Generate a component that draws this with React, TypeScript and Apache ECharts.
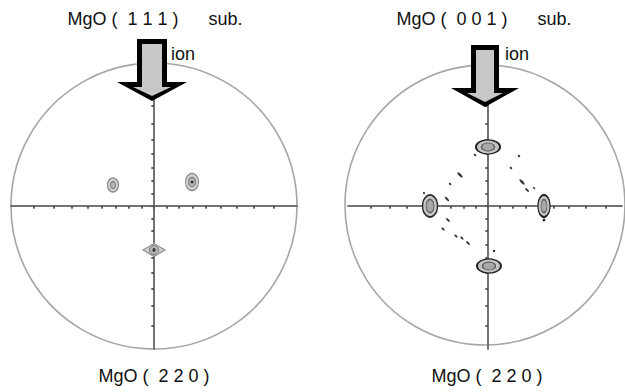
import React, { useEffect, useRef } from "react";
import * as echarts from "echarts";

// ---- data ----
const NB = "\u00A0";
const titles = [
  `MgO${NB}(${NB}${NB}1${NB}1${NB}1${NB})${NB.repeat(6)}sub.`,
  `MgO${NB}(${NB}${NB}0${NB}0${NB}1${NB})${NB.repeat(6)}sub.`,
];
const bottomLabels = [
  `MgO${NB}(${NB}${NB}2${NB}2${NB}0${NB})`,
  `MgO${NB}(${NB}${NB}2${NB}2${NB}0${NB})`,
];
const ionLabel = "ion";
// stereographic tick angles (deg, tilt psi)
const tickAngles = [10, 20, 30, 40, 50, 60, 70, 80];

// left pole figure spots (normalized stereographic coords)
const leftSpotX = [-0.287, 0.266, 0.0];
const leftSpotY = [0.147, 0.168, -0.308];
// right pole figure main spots
const rightSpotX = [0.0, -0.414, 0.4, 0.007];
const rightSpotY = [0.413, 0.0, 0.0, -0.42];
// right pole figure weak streaks
const streakX = [-0.093, -0.2, -0.271, -0.457, -0.293, 0.221, 0.164, 0.243, 0.279, 0.329, -0.286, -0.321, -0.229, -0.186, -0.143, 0.4, 0.043];
const streakY = [0.357, 0.217, 0.154, 0.091, 0.049, 0.35, 0.266, 0.168, 0.112, 0.126, -0.098, -0.161, -0.21, -0.224, -0.259, -0.098, -0.315];

// ---- styling (pixel sizes) ----
const leftOuter = [[11, 14], [13, 17], [22, 13]];
const leftOuterSym = ["circle", "circle", "diamond"];
const leftInner = [[5, 7], [7, 9], [9, 9]];
const leftCore = [[0, 0], [3, 3], [3, 4]];
const rightOuter = [[24, 14], [15, 22], [12, 22], [24, 14]];
const rightInner = [[13, 8], [8, 13], [6, 13], [13, 8]];
const streakSize = [[3, 2], [7, 2.5], [3, 2], [2, 2], [6, 2], [3, 2], [3, 2], [7, 2.5], [5, 2], [3, 1.5], [5, 2], [4, 2], [4, 2], [4, 2], [5, 2], [3, 3], [2, 3]];

const FONT = "'Liberation Sans', Arial, sans-serif";

export default function App() {
  const ref = useRef<HTMLDivElement>(null);
  useEffect(() => {
    if (!ref.current) return;
    const chart = echarts.init(ref.current, null, { renderer: "svg" });
    const tv: number[] = [0];
    tickAngles.forEach((a) => {
      const t = Math.tan((a * Math.PI) / 360);
      tv.push(t, -t);
    });
    const axisLineStyle = { color: "#6a6a6a", width: 1.5 };
    const mkX = (grid: number, min: number, max: number, inside: boolean, pos: string) => ({
      type: "value", gridIndex: grid, min, max, position: pos,
      axisLine: { show: true, onZero: true, lineStyle: axisLineStyle },
      axisTick: { show: true, inside, length: 2.5, customValues: tv, lineStyle: { color: "#555", width: 1.5 } },
      axisLabel: { show: false }, splitLine: { show: false },
    });
    const mkY = (grid: number, inside: boolean, pos: string) => ({
      type: "value", gridIndex: grid, min: -1, max: 1, position: pos,
      axisLine: { show: true, onZero: true, lineStyle: axisLineStyle },
      axisTick: { show: true, inside, length: 2.5, customValues: tv, lineStyle: { color: "#555", width: 1.5 } },
      axisLabel: { show: false }, splitLine: { show: false },
    });
    const scat = (xi: number, xs: number[], ys: number[], sizes: number[][], color: string, border: string, bw: number, z: number, syms?: string[], rot?: number) => ({
      type: "scatter", xAxisIndex: xi, yAxisIndex: xi, z, silent: true,
      data: xs.map((x, i) => ({
        value: [x, ys[i]],
        symbol: syms ? syms[i] : "circle",
        symbolSize: sizes[i],
        symbolRotate: rot || 0,
      })).filter((d) => d.symbolSize[0] > 0),
      itemStyle: { color, borderColor: border, borderWidth: bw, opacity: 1 },
    });
    const ringAxis = (pi: number) => ({
      type: "value", polarIndex: pi, min: 0, max: 360,
      axisLine: { show: true, lineStyle: { color: "#a6a6a6", width: 1.6 } },
      axisTick: { show: false }, axisLabel: { show: false }, splitLine: { show: false },
    });
    const arrow = (cx: number, top: number, sh: number, hy: number, hw: number, tip: number) => [
      {
        type: "polygon", z: 100,
        shape: { points: [[cx - sh, top], [cx + sh, top], [cx + sh, hy], [cx + hw, hy], [cx, tip], [cx - hw, hy], [cx - sh, hy]] },
        style: { fill: "#000" },
      },
      {
        type: "polygon", z: 101,
        shape: { points: [[cx - sh + 5, top + 5], [cx + sh - 5, top + 5], [cx + sh - 5, hy + 5], [cx + hw - 16, hy + 5], [cx, tip - 5], [cx - hw + 16, hy + 5], [cx - sh + 5, hy + 5]] },
        style: { fill: "#c8c8c8" },
      },
    ];
    const txt = (s: string, x: number, y: number, align: string) => ({
      type: "text", x, y, z: 110,
      style: { text: s, fill: "#111", font: `18px ${FONT}`, align, verticalAlign: "middle" },
    });
    chart.setOption({
      animation: false,
      backgroundColor: "#fff",
      grid: [
        { left: 11, top: 63, width: 286, height: 286 },
        { left: 348, top: 63, width: 274, height: 286 },
      ],
      polar: [
        { center: [154, 206], radius: 143 },
        { center: [485, 205], radius: 140 },
      ],
      angleAxis: [ringAxis(0), ringAxis(1)],
      radiusAxis: [
        { polarIndex: 0, show: false, min: 0, max: 1 },
        { polarIndex: 1, show: false, min: 0, max: 1 },
      ],
      xAxis: [
        mkX(0, -1, 1, false, "bottom"),
        mkX(0, -1, 1, true, "top"),
        mkX(1, -1, 134 / 140, false, "bottom"),
        mkX(1, -1, 134 / 140, true, "top"),
      ],
      yAxis: [mkY(0, false, "left"), mkY(0, true, "right"), mkY(1, false, "left"), mkY(1, true, "right")],
      series: [
        scat(0, leftSpotX, leftSpotY, leftOuter, "#cfcfcf", "#8a8a8a", 1.2, 10, leftOuterSym),
        scat(0, leftSpotX, leftSpotY, leftInner, "#b5b5b5", "#777", 1, 11),
        scat(0, leftSpotX, leftSpotY, leftCore, "#333", "#333", 0, 12),
        scat(2, rightSpotX, rightSpotY, rightOuter, "#c4c4c4", "#222", 1.6, 10),
        scat(2, rightSpotX, rightSpotY, rightInner, "#a8a8a8", "#555", 1, 11),
        scat(2, streakX, streakY, streakSize, "#333", "#333", 0, 12, undefined, -45),
      ],
      graphic: [
        ...arrow(152, 39, 15, 82, 35, 101),
        ...arrow(485, 45, 14, 88, 34, 107),
        txt(titles[0], 155, 19, "center"),
        txt(titles[1], 484, 19, "center"),
        txt(bottomLabels[0], 154, 376, "center"),
        txt(bottomLabels[1], 487, 376, "center"),
        txt(ionLabel, 171, 54, "left"),
        txt(ionLabel, 505, 54, "left"),
      ],
    });
    return () => chart.dispose();
  }, []);
  return <div ref={ref} style={{ position: "fixed", left: 0, top: 0, width: 625, height: 392, background: "#fff" }} />;
}
